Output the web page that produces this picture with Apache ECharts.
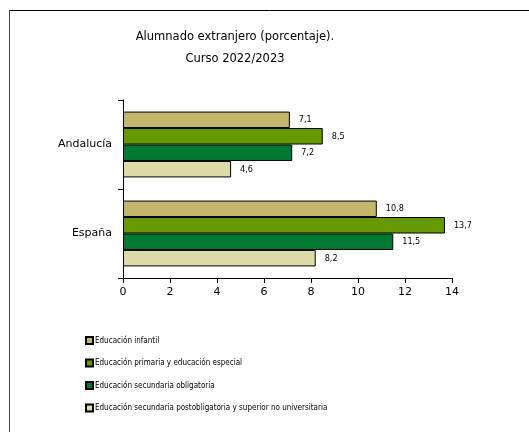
<!DOCTYPE html>
<html><head><meta charset="utf-8">
<script src="https://cdn.jsdelivr.net/npm/echarts@6/dist/echarts.min.js"></script>
<style>html,body{margin:0;padding:0;background:#fff}#c{width:529px;height:432px}</style>
</head><body><div id="c"></div>
<script>
const categories = ['Andalucía', 'España'];
const seriesNames = ['Educación infantil', 'Educación primaria y educación especial', 'Educación secundaria obligatoria', 'Educación secundaria postobligatoria y superior no universitaria'];
const infantil = [7.1, 10.8];
const primaria = [8.5, 13.7];
const secundaria = [7.2, 11.5];
const postobligatoria = [4.6, 8.2];
const xTicks = [0, 2, 4, 6, 8, 10, 12, 14];
const colors = ['#C2B76C', '#669900', '#007A33', '#DEDBA8'];
const values = [infantil, primaria, secundaria, postobligatoria];
const narrow = '"Liberation Sans Narrow", "DejaVu Sans Condensed", sans-serif';
const wide = '"DejaVu Sans", sans-serif';

const chart = echarts.init(document.getElementById('c'), null, {renderer: 'canvas'});
chart.setOption({
  animation: false,
  backgroundColor: '#fff',
  title: {
    text: 'Alumnado extranjero (porcentaje).',
    subtext: 'Curso 2022/2023',
    left: 230, top: 26, textAlign: 'center',
    itemGap: 10,
    textStyle: {fontSize: 11.5, fontWeight: 'normal', color: '#000', fontFamily: wide},
    subtextStyle: {fontSize: 11.5, color: '#000', fontFamily: wide}
  },
  graphic: [
    {type: 'line', shape: {x1: 9.5, y1: 10.5, x2: 529, y2: 10.5}, style: {stroke: '#000', lineWidth: 1}},
    {type: 'line', shape: {x1: 9.5, y1: 10, x2: 9.5, y2: 432}, style: {stroke: '#444', lineWidth: 1}}
  ],
  legend: {
    orient: 'vertical', left: 80, top: 331,
    itemWidth: 7, itemHeight: 7, itemGap: 13.5,
    icon: 'rect',
    textStyle: {fontSize: 8, color: '#000', fontFamily: narrow, padding: [0, 0, 0, -3]},
    data: seriesNames
  },
  grid: {left: 123, right: 77, top: 100, bottom: 154, containLabel: false},
  xAxis: {
    type: 'value', min: 0, max: 14, interval: 2,
    axisLine: {show: true, lineStyle: {color: '#000'}},
    axisTick: {show: true, length: 5, lineStyle: {color: '#000'}},
    axisLabel: {fontSize: 11, color: '#000', margin: 9, fontFamily: wide,
      formatter: v => xTicks.includes(v) ? String(v) : ''},
    splitLine: {show: false}
  },
  yAxis: {
    type: 'category', data: categories, inverse: true,
    axisLine: {show: true, lineStyle: {color: '#000'}},
    axisTick: {show: true, length: 5, lineStyle: {color: '#000'}},
    axisLabel: {fontSize: 11, color: '#000', margin: 11, fontFamily: wide}
  },
  series: seriesNames.map((n, i) => ({
    name: n, type: 'bar', data: values[i],
    barCategoryGap: '26%', barGap: '0%',
    itemStyle: {color: colors[i], borderColor: '#000', borderWidth: 1},
    label: {show: true, position: 'right', distance: 9, fontSize: 9, color: '#000', fontFamily: narrow,
      formatter: p => String(p.value).replace('.', ',')}
  }))
});
</script></body></html>
